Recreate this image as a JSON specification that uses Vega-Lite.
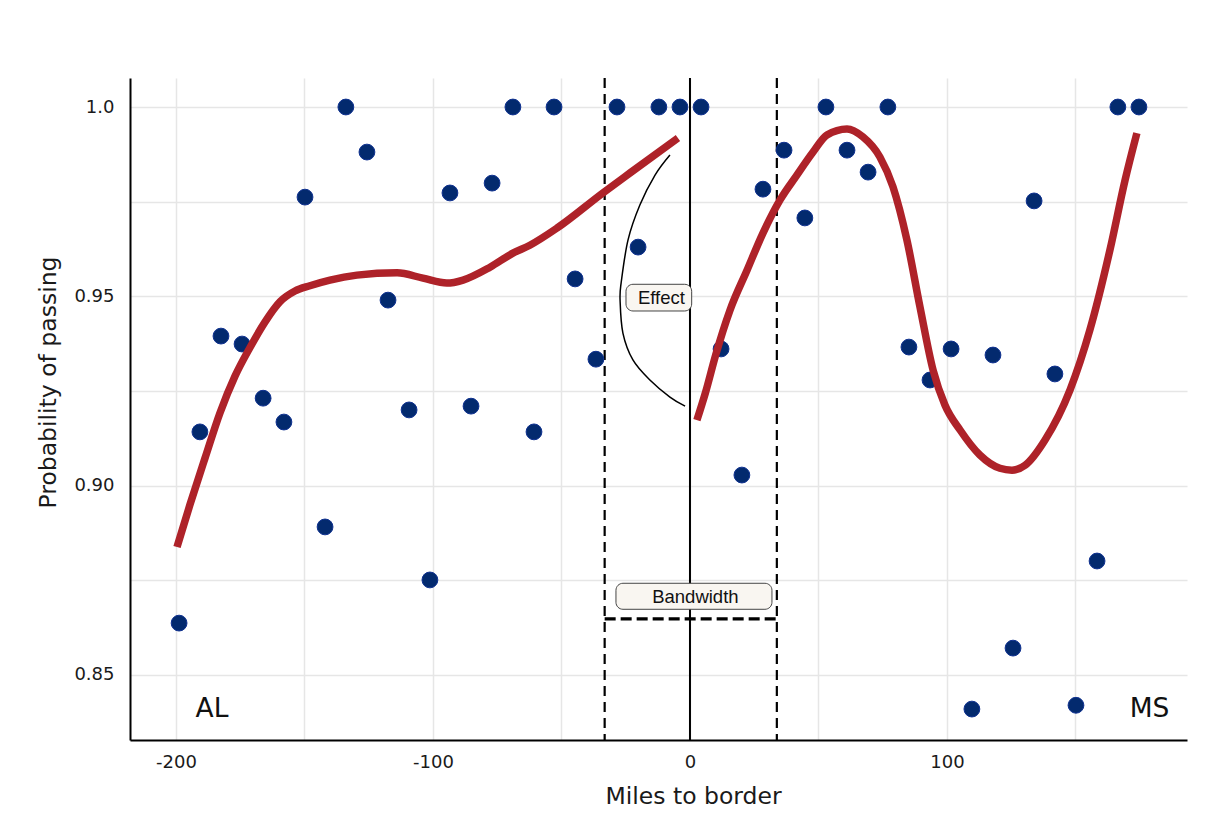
{
  "$schema": "https://vega.github.io/schema/vega-lite/v6.json",
  "width": 1057,
  "height": 662,
  "autosize": {"type": "none"},
  "padding": {"left": 130, "top": 78, "right": 43, "bottom": 96},
  "background": "white",
  "config": {"view": {"stroke": null}},
  "datasets": {
    "pts": [
      {"x": -198.8, "y": 0.8637}, {"x": -190.7, "y": 0.9142}, {"x": -182.5, "y": 0.9395}, {"x": -174.3, "y": 0.9374},
      {"x": -166.1, "y": 0.9231}, {"x": -158.0, "y": 0.9168}, {"x": -149.8, "y": 0.9762}, {"x": -142.0, "y": 0.8891},
      {"x": -133.9, "y": 1.0}, {"x": -125.7, "y": 0.9881}, {"x": -117.5, "y": 0.949}, {"x": -109.3, "y": 0.92},
      {"x": -101.2, "y": 0.8751}, {"x": -93.4, "y": 0.9773}, {"x": -85.2, "y": 0.921}, {"x": -77.0, "y": 0.9799},
      {"x": -68.9, "y": 1.0}, {"x": -60.7, "y": 0.9142}, {"x": -52.9, "y": 1.0}, {"x": -44.7, "y": 0.9546},
      {"x": -36.6, "y": 0.9334}, {"x": -28.4, "y": 1.0}, {"x": -20.2, "y": 0.963}, {"x": -12.1, "y": 1.0},
      {"x": -3.9, "y": 1.0}, {"x": 4.3, "y": 1.0}, {"x": 12.1, "y": 0.9361}, {"x": 20.2, "y": 0.9028},
      {"x": 28.4, "y": 0.9783}, {"x": 36.6, "y": 0.9886}, {"x": 44.7, "y": 0.9707}, {"x": 52.9, "y": 1.0},
      {"x": 61.1, "y": 0.9886}, {"x": 69.3, "y": 0.9828}, {"x": 77.0, "y": 1.0}, {"x": 85.2, "y": 0.9366},
      {"x": 93.4, "y": 0.9279}, {"x": 101.6, "y": 0.9361}, {"x": 109.7, "y": 0.841}, {"x": 117.9, "y": 0.9345},
      {"x": 125.7, "y": 0.8571}, {"x": 133.9, "y": 0.9752}, {"x": 142.0, "y": 0.9295}, {"x": 150.2, "y": 0.842},
      {"x": 158.4, "y": 0.8801}, {"x": 166.5, "y": 1.0}, {"x": 174.7, "y": 1.0}
    ],
    "fit": [
      {"side": "L", "x": -199.6, "y": 0.8838}, {"side": "L", "x": -194.6, "y": 0.8949}, {"side": "L", "x": -188.7, "y": 0.9073},
      {"side": "L", "x": -182.9, "y": 0.9192}, {"side": "L", "x": -177.0, "y": 0.929}, {"side": "L", "x": -171.2, "y": 0.9365},
      {"side": "L", "x": -165.4, "y": 0.9432}, {"side": "L", "x": -159.5, "y": 0.9486}, {"side": "L", "x": -153.7, "y": 0.9514},
      {"side": "L", "x": -147.9, "y": 0.9528}, {"side": "L", "x": -140.1, "y": 0.9543}, {"side": "L", "x": -129.6, "y": 0.9556},
      {"side": "L", "x": -114.0, "y": 0.9562}, {"side": "L", "x": -103.9, "y": 0.9548}, {"side": "L", "x": -94.6, "y": 0.9535},
      {"side": "L", "x": -88.3, "y": 0.9543}, {"side": "L", "x": -77.8, "y": 0.9577}, {"side": "L", "x": -68.9, "y": 0.9614},
      {"side": "L", "x": -62.3, "y": 0.9635}, {"side": "L", "x": -51.8, "y": 0.968}, {"side": "L", "x": -33.9, "y": 0.9773},
      {"side": "L", "x": -23.3, "y": 0.9826}, {"side": "L", "x": -4.7, "y": 0.9918},
      {"side": "R", "x": 2.7, "y": 0.9173}, {"side": "R", "x": 6.0, "y": 0.9245}, {"side": "R", "x": 10.0, "y": 0.9345},
      {"side": "R", "x": 15.6, "y": 0.9464}, {"side": "R", "x": 22.2, "y": 0.9569}, {"side": "R", "x": 28.4, "y": 0.9667},
      {"side": "R", "x": 35.0, "y": 0.9754}, {"side": "R", "x": 41.6, "y": 0.982}, {"side": "R", "x": 47.9, "y": 0.9881},
      {"side": "R", "x": 53.3, "y": 0.9926}, {"side": "R", "x": 61.1, "y": 0.9942}, {"side": "R", "x": 67.3, "y": 0.9921},
      {"side": "R", "x": 73.9, "y": 0.9868}, {"side": "R", "x": 79.0, "y": 0.9789}, {"side": "R", "x": 84.4, "y": 0.9649},
      {"side": "R", "x": 89.5, "y": 0.9472}, {"side": "R", "x": 94.6, "y": 0.9305}, {"side": "R", "x": 99.2, "y": 0.9213},
      {"side": "R", "x": 105.1, "y": 0.9147}, {"side": "R", "x": 112.8, "y": 0.9081}, {"side": "R", "x": 120.6, "y": 0.9046},
      {"side": "R", "x": 125.3, "y": 0.9041}, {"side": "R", "x": 130.4, "y": 0.9054}, {"side": "R", "x": 138.1, "y": 0.912},
      {"side": "R", "x": 147.9, "y": 0.9253}, {"side": "R", "x": 155.6, "y": 0.9411}, {"side": "R", "x": 163.4, "y": 0.9622},
      {"side": "R", "x": 169.3, "y": 0.9807}, {"side": "R", "x": 173.9, "y": 0.9931}
    ],
    "arc": [
      {"i": 1, "x": -7.8, "y": 0.9873}, {"i": 2, "x": -13.6, "y": 0.982}, {"i": 3, "x": -19.5, "y": 0.9741},
      {"i": 4, "x": -24.1, "y": 0.9649}, {"i": 5, "x": -26.8, "y": 0.9535}, {"i": 6, "x": -27.2, "y": 0.949},
      {"i": 7, "x": -26.1, "y": 0.9403}, {"i": 8, "x": -22.2, "y": 0.9332}, {"i": 9, "x": -15.6, "y": 0.9279},
      {"i": 10, "x": -7.8, "y": 0.9234}, {"i": 11, "x": -1.9, "y": 0.921}
    ],
    "bw": [{"x": -33.2}, {"x": 33.8}],
    "boxes": [
      {"label": "Bandwidth", "x1": -28.8, "x2": 31.9, "y1": 0.86735, "y2": 0.87422, "tx": 2.1, "ty": 0.8691},
      {"label": "Effect", "x1": -24.9, "x2": 0.66, "y1": 0.94613, "y2": 0.95318, "tx": -11.1, "ty": 0.94798}
    ],
    "states": [
      {"label": "AL", "x": -186, "y": 0.83899},
      {"label": "MS", "x": 178.8, "y": 0.83899}
    ]
  },
  "encoding": {
    "x": {
      "type": "quantitative",
      "scale": {"domain": [-217.9, 193.4], "nice": false, "zero": false},
      "axis": {
        "title": "Miles to border",
        "values": [-200, -150, -100, -50, 0, 50, 100, 150],
        "labelExpr": "datum.value % 100 == 0 ? '' + datum.value : ''",
        "grid": true, "gridColor": "#e6e6e6", "gridWidth": 1.5,
        "domain": true, "domainColor": "#000000", "domainWidth": 2,
        "ticks": false, "labelPadding": 13,
        "labelFont": "DejaVu Sans", "labelFontSize": 18, "labelColor": "#1a1a1a",
        "titleFont": "DejaVu Sans", "titleFontSize": 23.5, "titleFontWeight": "normal", "titleColor": "#1a1a1a",
        "titleX": 563, "titleY": 63, "titleBaseline": "alphabetic", "titleAlign": "center"
      }
    },
    "y": {
      "type": "quantitative",
      "scale": {"domain": [0.83283, 1.00766], "nice": false, "zero": false},
      "axis": {
        "title": "Probability of passing",
        "values": [0.85, 0.875, 0.9, 0.925, 0.95, 0.975, 1.0],
        "labelExpr": "datum.value == 1 ? '1.0' : (round(datum.value * 1000) % 50 == 0 ? format(datum.value, '.2f') : '')",
        "grid": true, "gridColor": "#e6e6e6", "gridWidth": 1.5,
        "domain": true, "domainColor": "#000000", "domainWidth": 2,
        "ticks": false, "labelPadding": 16,
        "labelFont": "DejaVu Sans", "labelFontSize": 18, "labelColor": "#1a1a1a",
        "titleFont": "DejaVu Sans", "titleFontSize": 23.5, "titleFontWeight": "normal", "titleColor": "#1a1a1a",
        "titleX": -75, "titleY": 304, "titleBaseline": "alphabetic", "titleAlign": "center", "titleAngle": -90
      }
    }
  },
  "layer": [
    {
      "data": {"name": "bw"},
      "mark": {"type": "rule", "color": "#000000", "strokeWidth": 2.2, "strokeDash": [10, 6]},
      "encoding": {"x": {"field": "x", "type": "quantitative"}}
    },
    {
      "data": {"values": [{"x": 0}]},
      "mark": {"type": "rule", "color": "#000000", "strokeWidth": 2},
      "encoding": {"x": {"field": "x", "type": "quantitative"}}
    },
    {
      "data": {"values": [{"x": -33.2, "x2": 33.8, "y": 0.8648}]},
      "mark": {"type": "rule", "color": "#000000", "strokeWidth": 3.3, "strokeDash": [11, 5]},
      "encoding": {
        "x": {"field": "x", "type": "quantitative"},
        "x2": {"field": "x2"},
        "y": {"field": "y", "type": "quantitative"}
      }
    },
    {
      "data": {"name": "pts"},
      "mark": {"type": "circle", "size": 250, "fill": "#032a6e", "stroke": "#0f3190", "strokeWidth": 1, "opacity": 1},
      "encoding": {
        "x": {"field": "x", "type": "quantitative"},
        "y": {"field": "y", "type": "quantitative"}
      }
    },
    {
      "data": {"name": "arc"},
      "mark": {"type": "line", "color": "#000000", "strokeWidth": 1.5, "interpolate": "cardinal"},
      "encoding": {
        "x": {"field": "x", "type": "quantitative"},
        "y": {"field": "y", "type": "quantitative"},
        "order": {"field": "i", "type": "quantitative"}
      }
    },
    {
      "data": {"name": "fit"},
      "mark": {"type": "line", "color": "#ae2229", "strokeWidth": 7.5, "interpolate": "monotone", "strokeCap": "butt"},
      "encoding": {
        "x": {"field": "x", "type": "quantitative"},
        "y": {"field": "y", "type": "quantitative"},
        "detail": {"field": "side", "type": "nominal"}
      }
    },
    {
      "data": {"name": "boxes"},
      "mark": {"type": "rect", "fill": "#f9f6f1", "stroke": "#444444", "strokeWidth": 1, "cornerRadius": 7},
      "encoding": {
        "x": {"field": "x1", "type": "quantitative"},
        "x2": {"field": "x2"},
        "y": {"field": "y1", "type": "quantitative"},
        "y2": {"field": "y2"}
      }
    },
    {
      "data": {"name": "boxes"},
      "mark": {"type": "text", "font": "Liberation Sans", "fontSize": 18.5, "color": "#111111", "align": "center", "baseline": "alphabetic"},
      "encoding": {
        "x": {"field": "tx", "type": "quantitative"},
        "y": {"field": "ty", "type": "quantitative"},
        "text": {"field": "label"}
      }
    },
    {
      "data": {"name": "states"},
      "mark": {"type": "text", "font": "DejaVu Sans", "fontSize": 26.5, "color": "#111111", "align": "center", "baseline": "alphabetic"},
      "encoding": {
        "x": {"field": "x", "type": "quantitative"},
        "y": {"field": "y", "type": "quantitative"},
        "text": {"field": "label"}
      }
    }
  ]
}
